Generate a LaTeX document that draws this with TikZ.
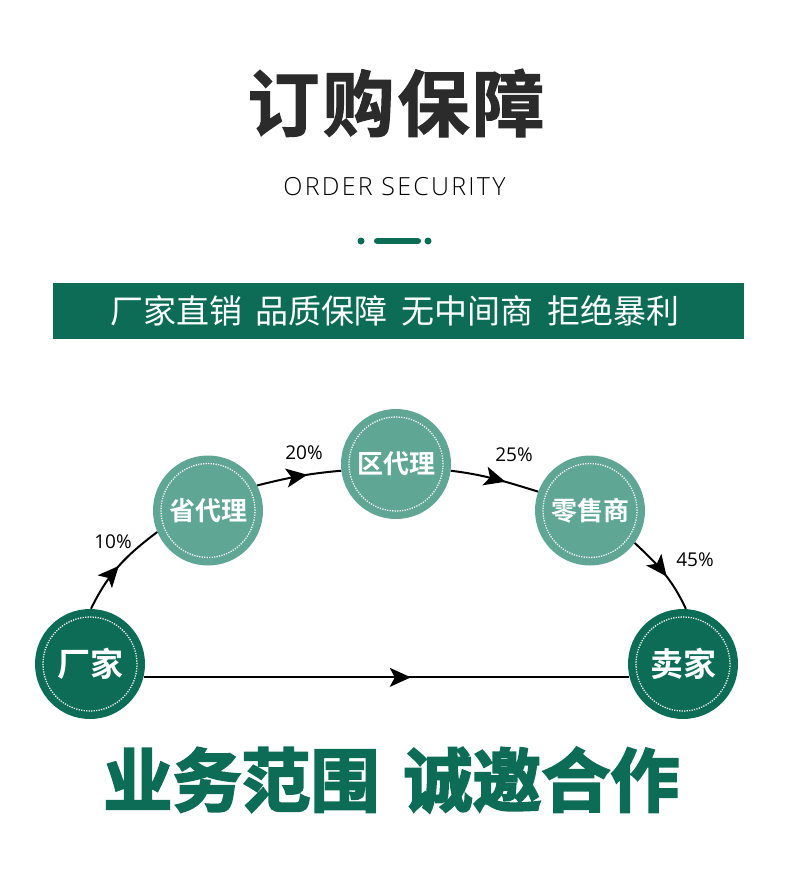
\documentclass[tikz,border=0pt]{standalone}
\usepackage{fontspec}
\usepackage{xcolor}
\usetikzlibrary{positioning}
\usetikzlibrary{arrows.meta}
\usetikzlibrary{decorations.markings}
\setmainfont{Open Sans}
\newfontfamily\cjkfont{Noto Sans CJK SC}
\newfontfamily\cjkbold[FakeBold=1.5]{Noto Sans CJK SC Bold}
\newfontfamily\cjkheavy[FakeBold=3]{Noto Sans CJK SC Bold}
\newfontfamily\cjkmid{Noto Sans CJK SC Bold}
\newfontfamily\enspaced[LetterSpace=9]{Open Sans Light}
\definecolor{darkgreen}{HTML}{0C6C55}
\definecolor{lightgreen}{HTML}{5FA694}
\definecolor{titlegray}{HTML}{2B2B2B}

\begin{document}
\begin{tikzpicture}[x=1pt, y=-1pt,
every node/.style = {inner sep = 0pt},
  stage/.style = {circle, minimum size = 110pt, text = white,
    path picture = {\draw[white, line width = 1.3pt, dash pattern = on 1.2pt off 1.3pt]
      (path picture bounding box.center) circle (47pt);}},
  upper/.style = {stage, fill = lightgreen, font = \cjkmid\fontsize{26}{26}\selectfont},
  lower/.style = {stage, fill = darkgreen, font = \cjkmid\fontsize{33}{33}\selectfont},
  share/.style = {font = \fontsize{19}{19}\selectfont, text = black},
  flow/.style = {line width = 2pt, postaction = {decorate},
    decoration = {markings, mark = at position #1 with {\arrow{Stealth[length = 21pt, width = 19pt, inset = 5pt]}}}}
]
\useasboundingbox (0,0) rectangle (790,891);

\node[font = \cjkbold\fontsize{72}{72}\selectfont, text = titlegray] (title) at (396,103) {订\hspace{3pt}购\hspace{3pt}保\hspace{3pt}障};
\node[font = \enspaced\fontsize{25}{25}\selectfont, text = black] (subtitle) at (394.5,187) {ORDER SECURITY};

% small divider
\fill[darkgreen] (361,241) circle (3.5pt);
\fill[darkgreen] (428,241) circle (3.5pt);
\fill[darkgreen, rounded corners = 2.7pt] (374,238.2) rectangle (421,243.8);

\node[fill = darkgreen, minimum width = 691pt, minimum height = 56pt, text = white,
  font = \cjkfont\fontsize{33}{33}\selectfont] (banner) at (398.5,311) {\hspace{-7pt}厂家直销\hspace{14pt}品质保障\hspace{14pt}无中间商\hspace{14pt}拒绝暴利};

\node[lower] (factory) at (90,664) {厂家};
\node[upper] (province) at (208,510.5) {\raisebox{-1pt}{省代理}};
\node[upper] (district) at (396,464) {\raisebox{-1.5pt}{区代理}};
\node[upper] (retail) at (590,510.5) {\raisebox{-1pt}{零售商}};
\node[lower] (seller) at (683,664) {卖家};

\draw[flow = 0.5] (factory.89) to[out = 64, in = 217] (province.203);
\draw[flow = 0.6] (province.27) to[out = 14, in = 185] (district.187);
\draw[flow = 0.62] (district.353) to[out = -7, in = 163] (retail.160);
\draw[flow = 0.55] (retail.-36) to[out = -43, in = 115] (seller.87);
\draw[flow = 0.55] (factory.-14) -- (seller.194);

\node[share] (pct10) at (113,542) {10\%};
\node[share] (pct20) at (304,453) {20\%};
\node[share] (pct25) at (514,455) {25\%};
\node[share] (pct45) at (695,560) {45\%};

\node[font = \cjkheavy\fontsize{69}{69}\selectfont, text = darkgreen] (slogan) at (391.5,780) {业务范围\hspace{24pt}诚邀合作};
\end{tikzpicture}
\end{document}
